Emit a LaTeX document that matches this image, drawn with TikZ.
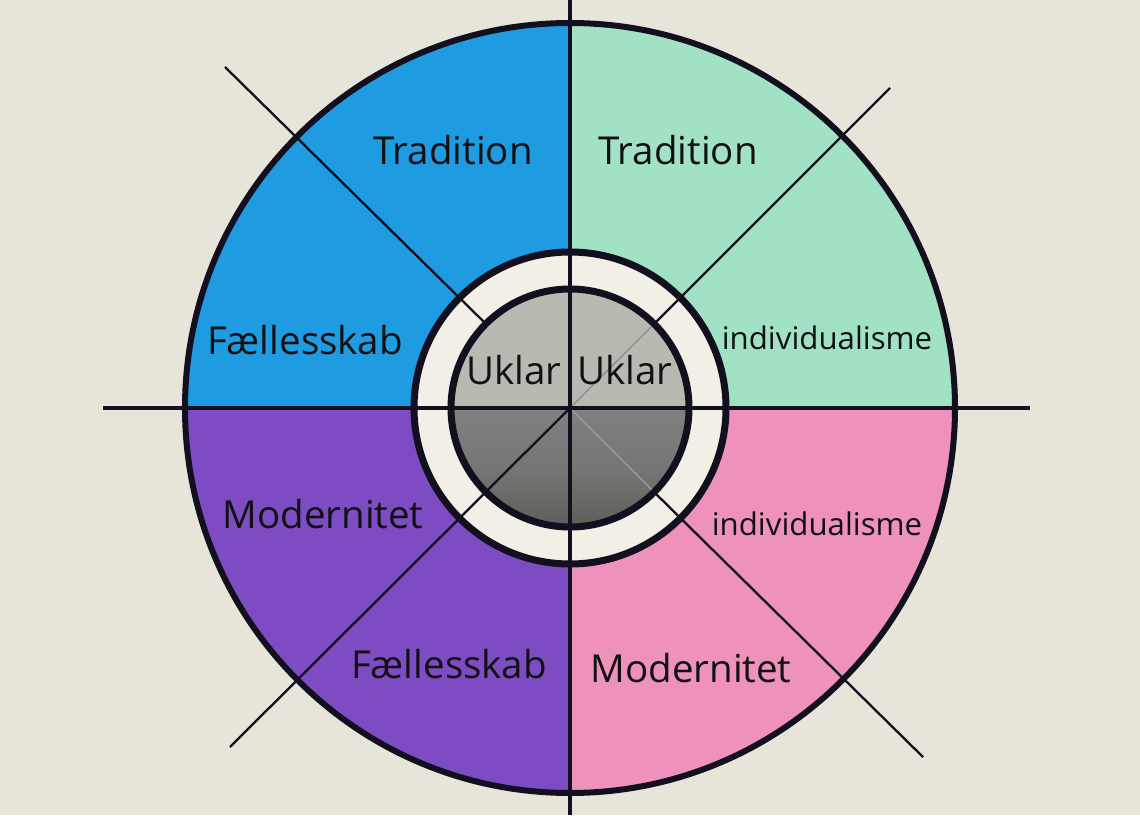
\documentclass[tikz,border=0pt]{standalone}
\usepackage{fontspec}
\setmainfont{Open Sans}
\begin{document}
\begin{tikzpicture}[x=1pt,y=1pt,
  lbl/.style={anchor=base,inner sep=0pt,text=txt,font=\fontsize{38.5}{42}\selectfont},
  slbl/.style={anchor=base,inner sep=0pt,text=txt,font=\fontsize{31.2}{34}\selectfont},
  ring/.style={draw=ink,line width=7pt},
  axis/.style={draw=ink,line width=3.6pt},
  diag/.style={draw=ink,line width=2.3pt},
]
\definecolor{paper}{HTML}{E7E4D9}
\definecolor{ink}{HTML}{12101E}
\definecolor{txt}{HTML}{111111}
\definecolor{qblue}{HTML}{1F9BE2}
\definecolor{qgreen}{HTML}{A2E2C4}
\definecolor{qpurple}{HTML}{7D4CC2}
\definecolor{qpink}{HTML}{EE92BC}
\definecolor{ringwhite}{HTML}{F1EFE6}
\definecolor{grayup}{HTML}{B9B8B1}
\definecolor{graydn}{HTML}{808080}
\definecolor{graydk}{HTML}{5E5E5A}
\useasboundingbox (0,0) rectangle (1140,815);
\fill[paper] (0,0) rectangle (1140,815);
\coordinate (c) at (570,407);
% quadrants
\fill[qblue] (c) -- ++(90:385) arc[start angle=90,end angle=180,radius=385] -- cycle;
\fill[qgreen] (c) -- ++(0:385) arc[start angle=0,end angle=90,radius=385] -- cycle;
\fill[qpurple] (c) -- ++(180:385) arc[start angle=180,end angle=270,radius=385] -- cycle;
\fill[qpink] (c) -- ++(270:385) arc[start angle=270,end angle=360,radius=385] -- cycle;
% white ring and grey core
\fill[ringwhite] (c) circle[radius=156];
\fill[grayup] (c) -- ++(0:119) arc[start angle=0,end angle=180,radius=119] -- cycle;
\shade[top color=graydn,bottom color=graydk,middle color=graydn!70!graydk] (c) -- ++(180:119) arc[start angle=180,end angle=360,radius=119] -- cycle;
% diagonal lines
\coordinate (tl) at (225,748);
\coordinate (br) at (923,58);
\coordinate (tr) at (890,727);
\coordinate (bl) at (230,68);
\path (c) ++(135:119) coordinate (tlg);
\path (c) ++(-45:119) coordinate (brg);
\path (c) ++(45:119) coordinate (trg);
\draw[diag] (tl) -- (tlg);
\draw[diag] (brg) -- (br);
\draw[diag] (tr) -- (trg);
\draw[diag] (bl) -- (c);
\draw[draw=ink!50,line width=1.2pt] (trg) -- (c);
\draw[draw=ink!40,line width=1.2pt] (c) -- (brg);
% axes
\coordinate (vt) at (570,815);
\coordinate (vb) at (570,0);
\coordinate (hl) at (103,407);
\coordinate (hr) at (1030,407);
\draw[axis] (vt) -- (vb);
\draw[axis] (hl) -- (hr);
% circles
\draw[draw=ink,line width=6pt] (c) circle[radius=385];
\draw[ring] (c) circle[radius=156];
\draw[ring] (c) circle[radius=119];
% labels
\node[lbl] (t1) at (453,650) {Tradition};
\node[lbl] (t2) at (678,650) {Tradition};
\node[lbl] (f1) at (305,460) {Fællesskab};
\node[slbl] (i1) at (827,465) {individualisme};
\node[lbl] (u1) at (514,430) {Uklar};
\node[lbl] (u2) at (625,430) {Uklar};
\node[lbl] (m1) at (323,287) {Modernitet};
\node[slbl] (i2) at (817,280) {individualisme};
\node[lbl] (f2) at (449,137) {Fællesskab};
\node[lbl] (m2) at (691,133) {Modernitet};
\end{tikzpicture}
\end{document}
